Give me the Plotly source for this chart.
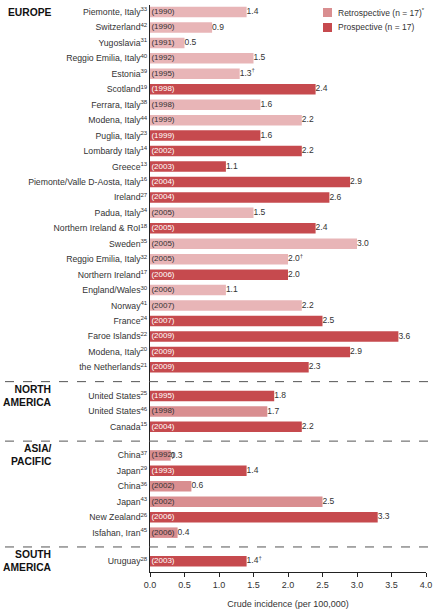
import plotly.graph_objects as go

# ---------------- data ----------------
regions = ["EUROPE", "NORTH<br>AMERICA", "ASIA/<br>PACIFIC", "SOUTH<br>AMERICA"]

names = [
    "Piemonte, Italy", "Switzerland", "Yugoslavia", "Reggio Emilia, Italy", "Estonia",
    "Scotland", "Ferrara, Italy", "Modena, Italy", "Puglia, Italy", "Lombardy Italy",
    "Greece", "Piemonte/Valle D-Aosta, Italy", "Ireland", "Padua, Italy",
    "Northern Ireland & RoI", "Sweden", "Reggio Emilia, Italy", "Northern Ireland",
    "England/Wales", "Norway", "France", "Faroe Islands", "Modena, Italy", "the Netherlands",
    "United States", "United States", "Canada",
    "China", "Japan", "China", "Japan", "New Zealand", "Isfahan, Iran",
    "Uruguay",
]
refs = [33, 42, 31, 40, 39, 19, 38, 44, 23, 14, 13, 16, 27, 34, 18, 35, 32, 17, 30, 41,
        24, 22, 20, 21,
        25, 46, 15,
        37, 29, 36, 43, 26, 45,
        28]
years = [1990, 1990, 1991, 1992, 1995, 1998, 1998, 1999, 1999, 2002, 2003, 2004, 2004,
         2005, 2005, 2005, 2005, 2006, 2006, 2007, 2007, 2009, 2009, 2009,
         1995, 1998, 2004,
         1992, 1993, 2002, 2002, 2006, 2006,
         2003]
values = [1.4, 0.9, 0.5, 1.5, 1.3, 2.4, 1.6, 2.2, 1.6, 2.2, 1.1, 2.9, 2.6, 1.5, 2.4, 3.0,
          2.0, 2.0, 1.1, 2.2, 2.5, 3.6, 2.9, 2.3,
          1.8, 1.7, 2.2,
          0.3, 1.4, 0.6, 2.5, 3.3, 0.4,
          1.4]
# R = retrospective, P = prospective
study_type = ["R", "R", "R", "R", "R", "P", "R", "R", "P", "P", "P", "P", "P", "R", "P",
              "R", "R", "P", "R", "R", "P", "P", "P", "P",
              "P", "R", "P",
              "R", "P", "R", "R", "P", "R",
              "P"]
dagger = [False, False, False, False, True, False, False, False, False, False, False,
          False, False, False, False, False, True, False, False, False, False, False,
          False, False,
          False, False, False,
          False, False, False, False, False, False,
          True]
region_of = [0] * 24 + [1] * 3 + [2] * 6 + [3] * 1

legend_labels = ["Retrospective (n = 17)<sup>*</sup>", "Prospective (n = 17)"]
x_ticks = [0.0, 0.5, 1.0, 1.5, 2.0, 2.5, 3.0, 3.5, 4.0]

# ---------------- styling ----------------
FONT = "Arial, Liberation Sans, Helvetica, sans-serif"
C_PROS = "#C64A4E"
C_RETRO = "#D98E90"
C_RETRO_EU = "#E8B5B7"
TXT = "#333333"
GROUP_GAP = 1.85

W, H = 435, 614
PL, PR, PT, PB = 150, 426, 5, 572     # plot area in page pixels
ROW_PX = 15.45
FIRST_ROW_PX = 12

# row positions (layout computed from grouping)
pos = []
y = 0.0
prev = region_of[0]
for r in region_of:
    if r != prev:
        y += GROUP_GAP - 1
        prev = r
    pos.append(y)
    y += 1

y_top = -(FIRST_ROW_PX - PT) / ROW_PX
y_bot = (PB - FIRST_ROW_PX) / ROW_PX


def px_x(px):
    return (px - PL) / (PR - PL)


def px_y(px):
    return 1 - (px - PT) / (PB - PT)


colors = []
for t, r in zip(study_type, region_of):
    if t == "P":
        colors.append(C_PROS)
    elif r == 0:
        colors.append(C_RETRO_EU)
    else:
        colors.append(C_RETRO)

ticktext = [f"{n}<sup>{r}</sup>" for n, r in zip(names, refs)]
val_text = [f"{v:.1f}" + ("<sup>†</sup>" if d else "") for v, d in zip(values, dagger)]
year_text = [f"({yr})" for yr in years]
year_col = ["white" if t == "P" else TXT for t in study_type]

fig = go.Figure()
fig.add_trace(go.Bar(
    x=values, y=pos, orientation="h", width=0.68,
    marker=dict(color=colors, line=dict(width=0)),
    showlegend=False, hoverinfo="skip",
))
fig.add_trace(go.Scatter(
    x=[0.02] * len(years), y=pos, mode="text", text=year_text,
    textposition="middle right", cliponaxis=False,
    textfont=dict(family=FONT, size=8, color=year_col),
    showlegend=False, hoverinfo="skip",
))
fig.add_trace(go.Scatter(
    x=values, y=pos, mode="text", text=val_text,
    textposition="middle right", cliponaxis=False,
    textfont=dict(family=FONT, size=8.5, color=TXT),
    showlegend=False, hoverinfo="skip",
))

# group separators and labels
first_idx = {}
last_idx = {}
for i, r in enumerate(region_of):
    first_idx.setdefault(r, i)
    last_idx[r] = i

shapes = []
for r in range(1, len(regions)):
    yy = (pos[last_idx[r - 1]] + pos[first_idx[r]]) / 2
    shapes.append(dict(type="line", xref="paper", yref="y", x0=px_x(5), x1=px_x(428),
                       y0=yy, y1=yy, line=dict(color="#555555", width=1, dash="dash")))

annotations = []
for r, lab in enumerate(regions):
    annotations.append(dict(
        text=f"<b>{lab}</b>", xref="paper", yref="y", x=px_x(54),
        y=pos[first_idx[r]], xanchor="right", yanchor="middle", align="right",
        showarrow=False, font=dict(family=FONT, size=10.3, color="#111111"),
    ))

# legend (drawn as swatches + labels)
leg_colors = [C_RETRO, C_PROS]
for k, (lab, col) in enumerate(zip(legend_labels, leg_colors)):
    yc = 12.5 + 15 * k  # page pixels from top
    shapes.append(dict(type="rect", xref="paper", yref="paper",
                       x0=px_x(323), x1=px_x(332),
                       y0=px_y(yc + 4.5), y1=px_y(yc - 4.5),
                       fillcolor=col, line=dict(width=0)))
    annotations.append(dict(
        text=lab, xref="paper", yref="paper", x=px_x(336),
        y=px_y(yc), xanchor="left", yanchor="middle",
        showarrow=False, font=dict(family=FONT, size=8.5, color=TXT),
    ))

fig.update_layout(
    width=W, height=H,
    margin=dict(l=PL, r=W - PR, t=PT, b=H - PB),
    paper_bgcolor="white", plot_bgcolor="white",
    font=dict(family=FONT, size=9, color=TXT),
    barmode="overlay", showlegend=False,
    shapes=shapes, annotations=annotations,
    xaxis=dict(range=[0, 4], tickvals=x_ticks, ticktext=[f"{t:.1f}" for t in x_ticks],
               automargin=False, ticklabeloverflow="allow",
               showgrid=False, zeroline=False, showline=True, linecolor="#222222",
               linewidth=1, ticks="outside", ticklen=4, tickcolor="#222222",
               tickfont=dict(family=FONT, size=9, color=TXT),
               title=dict(text="Crude incidence (per 100,000)", standoff=11,
                          font=dict(family=FONT, size=9, color=TXT))),
    yaxis=dict(range=[y_bot, y_top], tickvals=pos, ticktext=ticktext,
               automargin=False, ticklabeloverflow="allow",
               showgrid=False, zeroline=False, showline=True, linecolor="#222222",
               linewidth=1, ticks="", tickfont=dict(family=FONT, size=8.7, color=TXT)),
)

# remove the default page margin so the 435x614 figure fills the window exactly
fig.write_html("out.html",
               config={"displayModeBar": False},
               post_script="document.body.style.margin='0px';"
                           "document.body.style.overflow='hidden';")
